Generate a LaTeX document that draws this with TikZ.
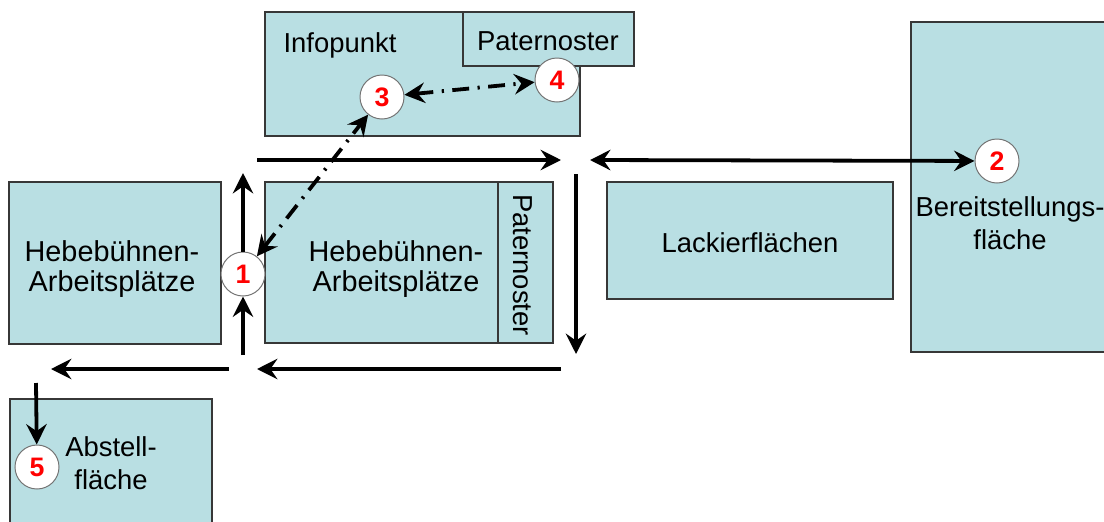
\documentclass[tikz,border=0pt]{standalone}
\usepackage{fontspec}
\setmainfont{Liberation Sans}
\usetikzlibrary{arrows.meta,positioning}

\definecolor{halle}{RGB}{185,223,227}
\definecolor{rahmen}{RGB}{55,55,55}

\begin{document}
\begin{tikzpicture}[x=0.025cm, y=-0.025cm,
	flaeche/.style={draw=rahmen, line width=0.9pt, fill=halle},
	beschr/.style={font=\fontsize{19.5}{23.5}\selectfont, align=center, inner sep=0pt},
	hebe/.style={beschr, font=\fontsize{20.5}{21.5}\selectfont},
	punkt/.style={circle, draw=black!55, line width=0.7pt, fill=white, minimum size=1.1cm,
		inner sep=0pt, text=red, font=\fontsize{19}{19}\selectfont\bfseries},
	spitze/.tip={Stealth[length=14.5pt,width=14.5pt,inset=5pt]},
	weg/.style={line width=2.7pt, -spitze},
	info/.style={line width=2.7pt, dash pattern=on 12pt off 6pt on 1.6pt off 6pt, spitze-spitze}]
	\useasboundingbox (0,0) rectangle (1104,521);
	\clip (0,0) rectangle (1104,521);
	
	% infopunkt with paternoster
	\draw[flaeche] (265,12) rectangle (580,136);
	\draw[flaeche] (463,12) rectangle (634,66);
	\node[beschr, anchor=base] (infopunkt) at (340,52) {Infopunkt};
	\node[beschr, anchor=base] (paterOben) at (548,50) {Paternoster};
	
	% lifting platforms left
	\draw[flaeche] (9,182) rectangle (221,344);
	\node[hebe] (hebeLinks) at (112,269) {Hebebühnen-\\Arbeitsplätze};
	
	% lifting platforms middle with paternoster
	\draw[flaeche] (265,182) rectangle (553,343);
	\draw[flaeche] (498,182) rectangle (553,343);
	\node[hebe] (hebeMitte) at (396,269) {Hebebühnen-\\Arbeitsplätze};
	\node[beschr, rotate=-90] (paterMitte) at (523,265) {Paternoster};
	
	% painting areas
	\draw[flaeche] (607,182) rectangle (893,299);
	\node[beschr, anchor=base] (lack) at (750,252) {Lackierflächen};
	
	% staging area
	\draw[flaeche] (911,22) rectangle (1112,352);
	\node[beschr] (bereit) at (1010,223) {Bereitstellungs-\\fläche};
	
	% parking area
	\draw[flaeche] (10,399) rectangle (212,540);
	\node[beschr] (abstell) at (111,463) {Abstell-\\fläche};
	
	% numbered points
	\node[punkt] (p1) at (243,274) {1};
	\node[punkt] (p2) at (997,161) {2};
	\node[punkt] (p3) at (382,97) {3};
	\node[punkt] (p4) at (557,80) {4};
	\node[punkt] (p5) at (37,467) {5};
	
	% free ends of the ways
	\coordinate (aufUnten) at (243,355);
	\coordinate (aufOben) at (243,173);
	\coordinate (obenStart) at (257,160);
	\coordinate (obenEnde) at (561,160);
	\coordinate (bereitStart) at (590,160);
	\coordinate (runterStart) at (576,174);
	\coordinate (runterEnde) at (576,354);
	\coordinate (untenStart) at (561,369);
	\coordinate (untenEnde) at (257,369);
	\coordinate (linksStart) at (229,369);
	\coordinate (linksEnde) at (51,369);
	\coordinate (abstellStart) at (36,383);
	
	% ways
	\draw[weg] (aufUnten) -- (p1);
	\draw[weg] (p1) -- (aufOben);
	\draw[weg] (obenStart) -- (obenEnde);
	\draw[weg, spitze-spitze] (bereitStart) -- (p2);
	\draw[weg] (runterStart) -- (runterEnde);
	\draw[weg] (untenStart) -- (untenEnde);
	\draw[weg] (linksStart) -- (linksEnde);
	\draw[weg] (abstellStart) -- (p5);
	
	% information ways
	\draw[info] (p1) -- (p3);
	\draw[info] (p3) -- (p4);
\end{tikzpicture}
\end{document}
